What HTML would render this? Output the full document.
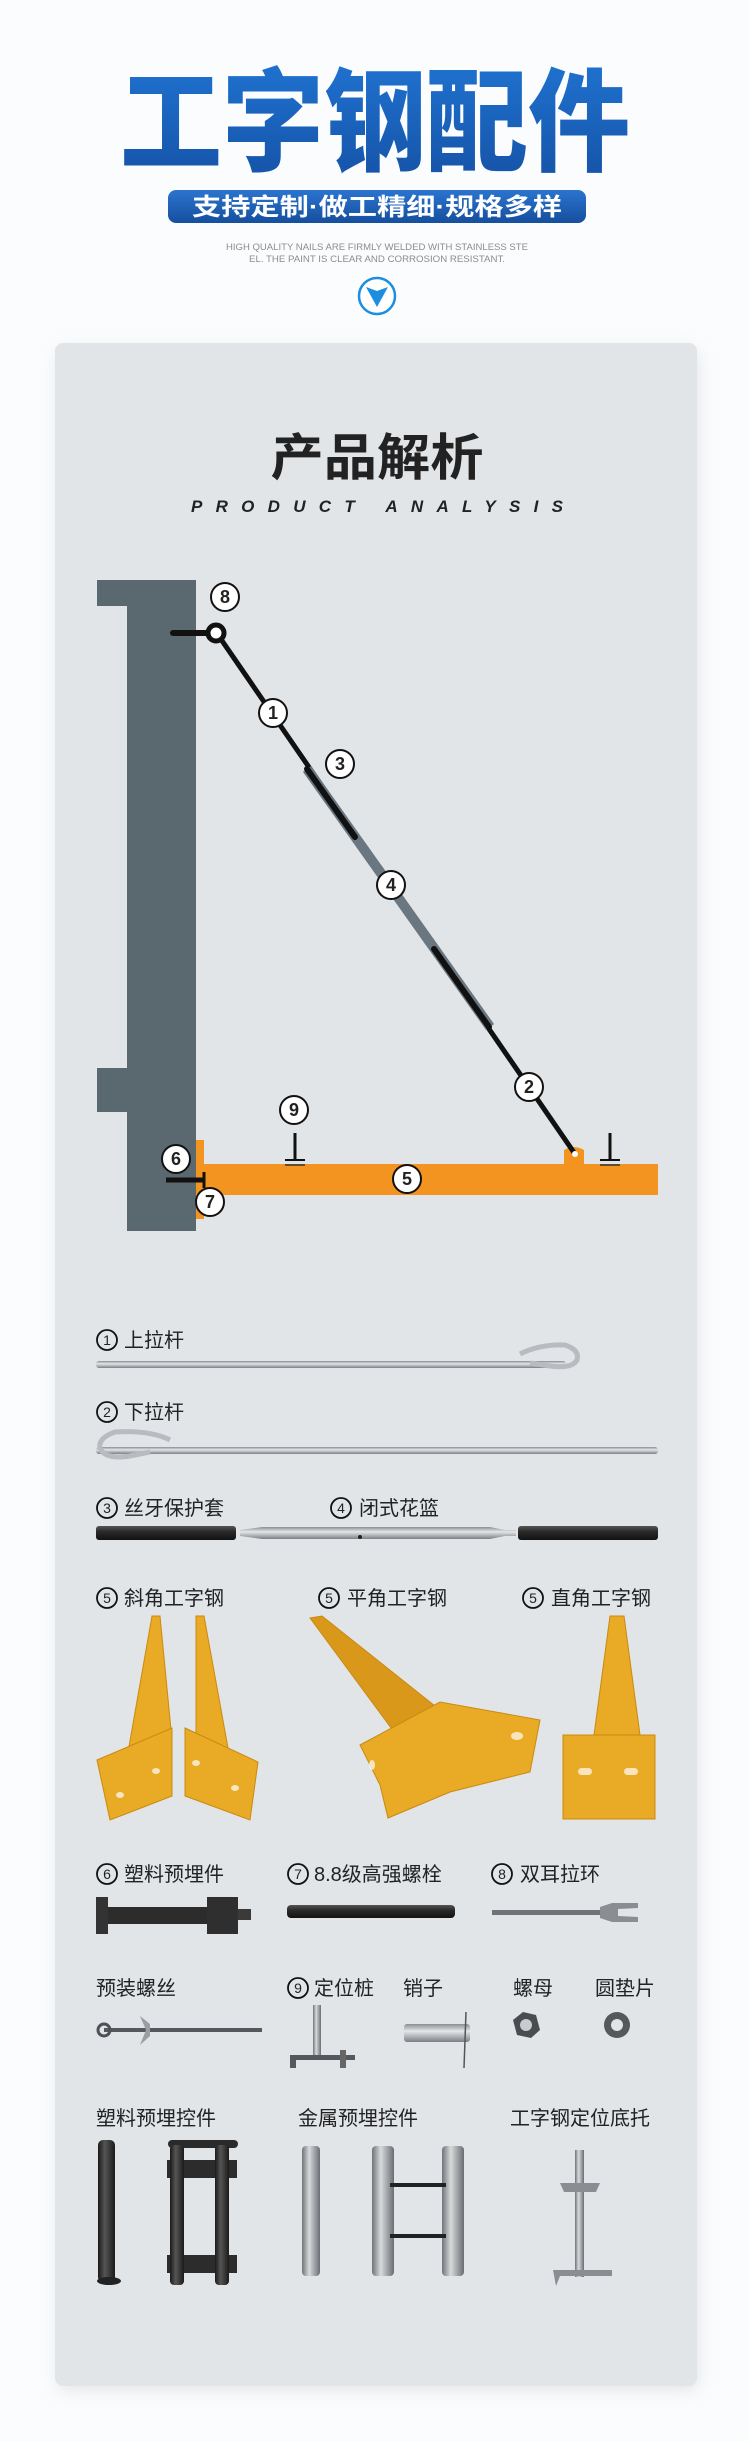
<!DOCTYPE html>
<html><head><meta charset="utf-8"><style>
html,body{margin:0;padding:0;background:#fbfcfd;}
svg{display:block}
text{font-family:"Liberation Sans","Noto Sans CJK SC",sans-serif;}
</style></head><body>
<svg width="749" height="2441" viewBox="0 0 749 2441" xmlns="http://www.w3.org/2000/svg">
<defs>
<linearGradient id="tg" x1="0" y1="0" x2="0" y2="1"><stop offset="0" stop-color="#1f72d0"/><stop offset="1" stop-color="#1552a6"/></linearGradient>
<linearGradient id="bg" x1="0" y1="0" x2="0" y2="1"><stop offset="0" stop-color="#2a74cf"/><stop offset="1" stop-color="#164f9e"/></linearGradient>
<linearGradient id="sil" x1="0" y1="0" x2="0" y2="1"><stop offset="0" stop-color="#8a8f94"/><stop offset="0.4" stop-color="#e4e6e8"/><stop offset="1" stop-color="#7b8085"/></linearGradient>
<linearGradient id="blk" x1="0" y1="0" x2="0" y2="1"><stop offset="0" stop-color="#555"/><stop offset="0.4" stop-color="#2a2a2a"/><stop offset="1" stop-color="#111"/></linearGradient>
<linearGradient id="vsil" x1="0" y1="0" x2="1" y2="0"><stop offset="0" stop-color="#6f7479"/><stop offset="0.4" stop-color="#d8dadc"/><stop offset="1" stop-color="#6a6e73"/></linearGradient>
<linearGradient id="vblk" x1="0" y1="0" x2="1" y2="0"><stop offset="0" stop-color="#1a1a1a"/><stop offset="0.4" stop-color="#555"/><stop offset="1" stop-color="#1a1a1a"/></linearGradient>
<filter id="sh" x="-10%" y="-10%" width="120%" height="120%"><feGaussianBlur stdDeviation="8"/></filter>
</defs>
<rect width="749" height="2441" fill="#fbfcfd"/>
<!-- header -->
<text x="120" y="162" font-size="112" font-weight="900" fill="url(#tg)" textLength="510" lengthAdjust="spacingAndGlyphs">工字钢配件</text>
<rect x="168" y="190" width="418" height="33" rx="8" fill="url(#bg)"/>
<text x="377" y="215" font-size="24" font-weight="bold" fill="#fff" text-anchor="middle" textLength="370" lengthAdjust="spacingAndGlyphs">支持定制·做工精细·规格多样</text>
<text x="377" y="250" font-size="9" fill="#8a8d90" text-anchor="middle" textLength="302" lengthAdjust="spacingAndGlyphs">HIGH QUALITY NAILS ARE FIRMLY WELDED WITH STAINLESS STE</text>
<text x="377" y="262" font-size="9" fill="#8a8d90" text-anchor="middle" textLength="256" lengthAdjust="spacingAndGlyphs">EL. THE PAINT IS CLEAR AND CORROSION RESISTANT.</text>
<circle cx="377" cy="296" r="18" fill="#fff" stroke="#1c8ee0" stroke-width="2.5"/>
<path d="M366 287 L377 291 L388 287 L377 307 Z" fill="#1c8ee0"/>
<!-- panel -->
<rect x="58" y="350" width="640" height="2040" rx="8" fill="#c9ccd0" opacity="0.5" filter="url(#sh)"/>
<rect x="55" y="343" width="642" height="2043" rx="8" fill="#e1e5e8"/>
<text x="377" y="475" font-size="50" font-weight="bold" fill="#222" text-anchor="middle" textLength="213" lengthAdjust="spacingAndGlyphs">产品解析</text>
<text x="377" y="512" font-size="17" font-weight="bold" font-style="italic" fill="#222" text-anchor="middle" textLength="372" lengthAdjust="spacing">PRODUCT ANALYSIS</text>
<!-- diagram -->
<path d="M97 580 H196 V1231 H127 V1112 H97 V1068 H127 V606 H97 Z" fill="#5a6870"/>
<rect x="196" y="1164" width="462" height="31" fill="#f39420"/>
<rect x="196" y="1140" width="8" height="79" fill="#f39420"/>
<path d="M564 1164 V1150 Q574 1144 584 1150 V1164 Z" fill="#f39420"/>
<line x1="216" y1="632" x2="575" y2="1154" stroke="#111" stroke-width="5" stroke-linecap="round"/>
<line x1="307" y1="769" x2="490" y2="1027" stroke="#6b7780" stroke-width="10"/>
<line x1="307" y1="769" x2="355" y2="837" stroke="#111" stroke-width="6" stroke-linecap="round"/>
<line x1="434" y1="949" x2="489" y2="1027" stroke="#111" stroke-width="6" stroke-linecap="round"/>
<circle cx="575" cy="1154" r="3" fill="#fff"/>
<line x1="173" y1="633" x2="212" y2="633" stroke="#111" stroke-width="6" stroke-linecap="round"/>
<circle cx="216" cy="633" r="8" fill="#fff" stroke="#111" stroke-width="5"/>
<line x1="166" y1="1180" x2="204" y2="1180" stroke="#111" stroke-width="5"/>
<line x1="204" y1="1172" x2="204" y2="1188" stroke="#111" stroke-width="3"/>
<line x1="295" y1="1133" x2="295" y2="1160" stroke="#111" stroke-width="3"/>
<line x1="285" y1="1160" x2="305" y2="1160" stroke="#111" stroke-width="2"/>
<line x1="285" y1="1165" x2="305" y2="1165" stroke="#333" stroke-width="1.5"/>
<line x1="610" y1="1133" x2="610" y2="1160" stroke="#111" stroke-width="3"/>
<line x1="600" y1="1160" x2="620" y2="1160" stroke="#111" stroke-width="2"/>
<line x1="600" y1="1165" x2="620" y2="1165" stroke="#333" stroke-width="1.5"/>
<g font-size="18" font-weight="bold" fill="#222" text-anchor="middle" stroke="#111" stroke-width="0">
<g stroke="#111" stroke-width="2" fill="#fff">
<circle cx="225" cy="597" r="14"/><circle cx="273" cy="713" r="14"/><circle cx="340" cy="764" r="14"/><circle cx="391" cy="885" r="14"/><circle cx="529" cy="1087" r="14"/><circle cx="294" cy="1110" r="14"/><circle cx="407" cy="1179" r="14"/><circle cx="176" cy="1159" r="14"/><circle cx="210" cy="1202" r="14"/>
</g>
<text x="225" y="603">8</text><text x="273" y="719">1</text><text x="340" y="770">3</text><text x="391" y="891">4</text><text x="529" y="1093">2</text><text x="294" y="1116">9</text><text x="407" y="1185">5</text><text x="176" y="1165">6</text><text x="210" y="1208">7</text>
</g>
<!-- part labels -->
<g font-size="20" fill="#222">
<g stroke="#111" stroke-width="1.8" fill="none">
<circle cx="107" cy="1340" r="10"/><circle cx="107" cy="1412" r="10"/><circle cx="107" cy="1508" r="10"/><circle cx="341" cy="1508" r="10"/>
<circle cx="107" cy="1598" r="10"/><circle cx="329" cy="1598" r="10"/><circle cx="533" cy="1598" r="10"/>
<circle cx="107" cy="1874" r="10"/><circle cx="298" cy="1874" r="10"/><circle cx="502" cy="1874" r="10"/><circle cx="298" cy="1988" r="10"/>
</g>
<g font-size="14" text-anchor="middle">
<text x="107" y="1345">1</text><text x="107" y="1417">2</text><text x="107" y="1513">3</text><text x="341" y="1513">4</text>
<text x="107" y="1603">5</text><text x="329" y="1603">5</text><text x="533" y="1603">5</text>
<text x="107" y="1879">6</text><text x="298" y="1879">7</text><text x="502" y="1879">8</text><text x="298" y="1993">9</text>
</g>
<text x="124" y="1347">上拉杆</text>
<text x="124" y="1419">下拉杆</text>
<text x="124" y="1515">丝牙保护套</text>
<text x="359" y="1515">闭式花篮</text>
<text x="124" y="1605">斜角工字钢</text>
<text x="347" y="1605">平角工字钢</text>
<text x="551" y="1605">直角工字钢</text>
<text x="124" y="1881">塑料预埋件</text>
<text x="314" y="1881">8.8级高强螺栓</text>
<text x="520" y="1881">双耳拉环</text>
<text x="96" y="1995">预装螺丝</text>
<text x="314" y="1995">定位桩</text>
<text x="403" y="1995">销子</text>
<text x="513" y="1995">螺母</text>
<text x="595" y="1995">圆垫片</text>
<text x="96" y="2125">塑料预埋控件</text>
<text x="298" y="2125">金属预埋控件</text>
<text x="510" y="2125">工字钢定位底托</text>
</g>
<!-- rods -->
<rect x="96" y="1361" width="470" height="7" rx="3" fill="url(#sil)"/>
<path d="M520 1354 Q540 1344 565 1345 Q580 1350 577 1360 Q572 1369 550 1366 L530 1363" fill="none" stroke="#b8bcc0" stroke-width="5"/>
<rect x="96" y="1447" width="562" height="7" rx="3" fill="url(#sil)"/>
<path d="M170 1440 Q150 1430 115 1432 Q98 1438 100 1448 Q105 1460 130 1456 L150 1452" fill="none" stroke="#b8bcc0" stroke-width="5"/>
<rect x="96" y="1526" width="140" height="14" rx="3" fill="url(#blk)"/>
<rect x="518" y="1526" width="140" height="14" rx="3" fill="url(#blk)"/>
<path d="M240 1530 L262 1527 H490 L505 1530 H516 V1536 H505 L490 1539 H262 L240 1536 Z" fill="url(#sil)"/>
<circle cx="360" cy="1537" r="2" fill="#222"/>
<!-- yellow I-beams -->
<g fill="#e9aa25" stroke="#c98a10" stroke-width="1">
<path d="M152 1616 L160 1616 L172 1740 L128 1752 Z"/>
<path d="M97 1760 L172 1728 L172 1796 L110 1820 Z"/>
<path d="M196 1616 L204 1616 L228 1748 L196 1740 Z"/>
<path d="M185 1728 L258 1762 L250 1820 L185 1796 Z"/>
<path d="M310 1618 L322 1616 L440 1710 L400 1740 Z" fill="#d9981a"/>
<path d="M360 1745 L440 1702 L540 1720 L530 1772 L450 1792 L388 1818 L380 1785 Z"/>
<path d="M610 1616 L624 1616 L640 1735 L594 1735 Z"/>
<rect x="563" y="1735" width="92" height="84"/>
</g>
<g fill="#fff" opacity="0.7">
<ellipse cx="120" cy="1795" rx="4" ry="3"/><ellipse cx="156" cy="1771" rx="4" ry="3"/>
<ellipse cx="196" cy="1763" rx="4" ry="3"/><ellipse cx="235" cy="1788" rx="4" ry="3"/>
<ellipse cx="372" cy="1765" rx="3" ry="5"/><ellipse cx="517" cy="1736" rx="6" ry="4"/>
<rect x="578" y="1768" width="14" height="7" rx="3.5"/><rect x="624" y="1768" width="14" height="7" rx="3.5"/>
</g>
<!-- row 6-8 -->
<rect x="96" y="1907" width="140" height="17" fill="#2c2c2c"/>
<rect x="96" y="1897" width="12" height="37" fill="#333"/>
<rect x="207" y="1897" width="31" height="37" fill="#2f2f2f"/>
<rect x="238" y="1909" width="13" height="11" fill="#3a3a3a"/>
<rect x="287" y="1905" width="168" height="13" rx="4" fill="url(#blk)"/>
<rect x="492" y="1910" width="110" height="5" fill="#6f7377"/>
<path d="M600 1907 L612 1903 L638 1903 V1908 L618 1909 L618 1916 L638 1917 V1922 L612 1922 L600 1918 Z" fill="#8a8e92"/>
<!-- row 9 -->
<line x1="104" y1="2030" x2="262" y2="2030" stroke="#55595d" stroke-width="4"/>
<circle cx="104" cy="2030" r="6" fill="none" stroke="#4e5256" stroke-width="3"/>
<path d="M140 2016 L150 2024 L150 2036 L140 2045 L146 2030 Z" fill="#9a9ea2"/>
<rect x="313" y="2005" width="8" height="50" fill="url(#vsil)"/>
<path d="M290 2055 H355 V2060 H296 V2068 H290 Z" fill="#55595d"/>
<rect x="340" y="2050" width="6" height="18" fill="#666"/>
<rect x="404" y="2024" width="66" height="18" rx="3" fill="url(#sil)"/>
<line x1="466" y1="2012" x2="464" y2="2068" stroke="#555" stroke-width="1.5"/>
<polygon points="513,2020 523,2012 536,2015 540,2030 531,2038 517,2035" fill="#4a4d50"/>
<circle cx="526" cy="2025" r="6" fill="#c8ccd0"/>
<circle cx="617" cy="2025" r="13" fill="#55595c"/>
<circle cx="617" cy="2025" r="6" fill="#e1e5e8"/>
<!-- row 3 -->
<rect x="98" y="2140" width="17" height="142" rx="5" fill="url(#vblk)"/>
<ellipse cx="109" cy="2281" rx="12" ry="4" fill="#222"/>
<rect x="168" y="2140" width="70" height="8" rx="4" fill="#2a2a2a"/>
<rect x="167" y="2160" width="70" height="18" fill="#2c2c2c"/>
<rect x="167" y="2255" width="70" height="18" fill="#2c2c2c"/>
<rect x="170" y="2145" width="14" height="140" rx="4" fill="url(#vblk)"/>
<rect x="215" y="2145" width="14" height="140" rx="4" fill="url(#vblk)"/>
<rect x="302" y="2146" width="18" height="130" rx="4" fill="url(#vsil)"/>
<rect x="372" y="2146" width="22" height="130" rx="4" fill="url(#vsil)"/>
<rect x="442" y="2146" width="22" height="130" rx="4" fill="url(#vsil)"/>
<rect x="390" y="2183" width="56" height="4" fill="#222"/>
<rect x="390" y="2234" width="56" height="4" fill="#222"/>
<rect x="575" y="2150" width="9" height="127" fill="url(#vsil)"/>
<path d="M560 2183 L600 2183 L596 2192 L564 2192 Z" fill="#8a8e92"/>
<path d="M553 2270 H612 V2276 H560 L556 2286 Z" fill="#8a8e92"/>
</svg>
</body></html>
